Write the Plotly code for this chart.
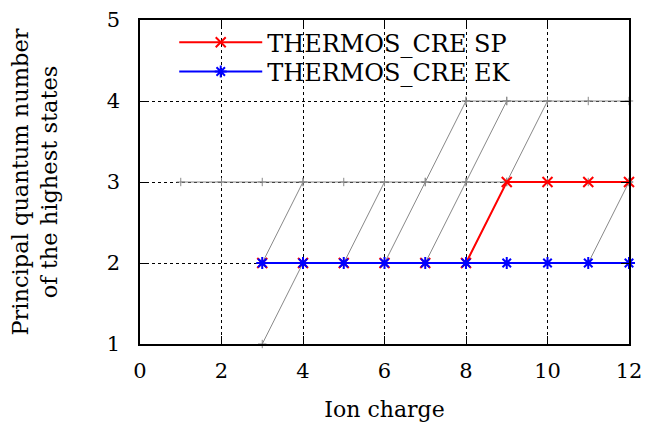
import plotly.graph_objects as go

# Data
ion_charge = [3, 4, 5, 6, 7, 8, 9, 10, 11, 12]
n_sp = [2, 2, 2, 2, 2, 2, 3, 3, 3, 3]
n_ek = [2, 2, 2, 2, 2, 2, 2, 2, 2, 2]

# gray reference segments (None separates segments)
ref_x = [1, 2, 3, 4, 5, 6, 7, 8, 9, 10, 11, 12, None,
         8, 9, 10, 11, 12, None,
         3, 4, None,
         3, 4, None,
         5, 6, None,
         6, 7, 8, None,
         7, 8, 9, None,
         8, 9, 10, None,
         11, 12]
ref_y = [3, 3, 3, 3, 3, 3, 3, 3, 3, 3, 3, 3, None,
         4, 4, 4, 4, 4, None,
         1, 2, None,
         2, 3, None,
         2, 3, None,
         2, 3, 4, None,
         2, 3, 4, None,
         2, 3, 4, None,
         2, 3]

x_ticks = [0, 2, 4, 6, 8, 10, 12]
y_ticks = [1, 2, 3, 4, 5]

FONT = "DejaVu Serif"

fig = go.Figure()
fig.add_trace(go.Scatter(
    x=ref_x, y=ref_y, mode="lines+markers", showlegend=False,
    line=dict(color="#888888", width=1),
    marker=dict(symbol="cross-thin-open", size=6, line=dict(color="#888888", width=1)),
    cliponaxis=False, connectgaps=False, hoverinfo="skip"))
fig.add_trace(go.Scatter(
    x=ion_charge, y=n_sp, mode="lines+markers", name="THERMOS_CRE SP",
    line=dict(color="#ff0000", width=2),
    marker=dict(symbol="x-thin-open", size=10, line=dict(color="#ff0000", width=2)),
    cliponaxis=False, legend="legend"))
fig.add_trace(go.Scatter(
    x=ion_charge, y=n_ek, mode="lines+markers", name="THERMOS_CRE EK",
    line=dict(color="#0000ff", width=2),
    marker=dict(symbol="asterisk-open", size=10, line=dict(color="#0000ff", width=2)),
    cliponaxis=False, legend="legend2"))

axis_common = dict(
    showline=True, linecolor="black", linewidth=1.5, mirror="ticks",
    ticks="inside", ticklen=8, tickwidth=1, tickcolor="black",
    showgrid=True, gridcolor="black", griddash="dot", gridwidth=1,
    zeroline=False, automargin=False,
    tickfont=dict(family=FONT, size=21, color="black"),
)

leg_common = dict(xanchor="left", yanchor="middle", bgcolor="rgba(0,0,0,0)", borderwidth=0,
                  itemwidth=83, font=dict(family=FONT, size=24, color="black"))

fig.update_layout(
    width=664, height=428,
    margin=dict(l=140, r=35, t=20, b=84),
    paper_bgcolor="white", plot_bgcolor="white",
    font=dict(family=FONT, color="black"),
    xaxis=dict(range=[0, 12], tickvals=x_ticks, ticktext=[str(v) for v in x_ticks],
               title=dict(text="Ion charge", font=dict(family=FONT, size=22), standoff=20),
               ticklabelstandoff=7, **axis_common),
    yaxis=dict(range=[1, 5], tickvals=y_ticks, ticktext=[str(v) for v in y_ticks],
               title=dict(text="Principal quantum number<br>of the highest states",
                          font=dict(family=FONT, size=22.5), standoff=43),
               ticklabelstandoff=14, **axis_common),
    legend=dict(x=0.07, y=0.93, **leg_common),
    legend2=dict(x=0.07, y=0.84, **leg_common),
    shapes=[dict(type="rect", xref="paper", yref="paper", x0=0.003, x1=0.8,
                 y0=0.793, y1=0.975, fillcolor="white", line=dict(width=0),
                 layer="between")],
    showlegend=True,
)

fig.write_html("out.html")
